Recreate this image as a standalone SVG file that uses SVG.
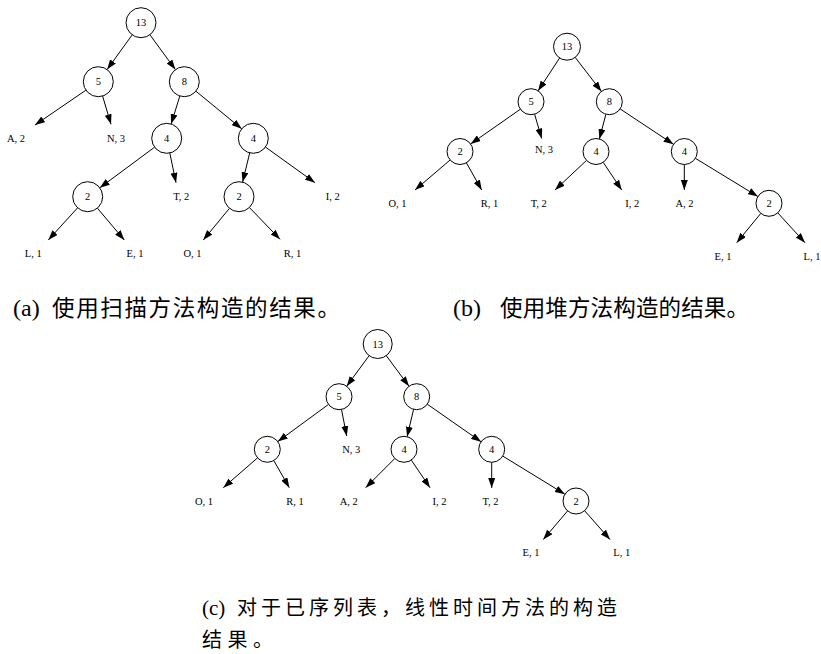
<svg xmlns="http://www.w3.org/2000/svg" width="821" height="654" viewBox="0 0 821 654">
<style>
.nd circle{fill:#fff;stroke:#000;stroke-width:1}
.t{font-family:"Liberation Serif",serif;font-size:10.5px;text-anchor:middle;fill:#000}
.edges line{stroke:#000;stroke-width:1;marker-end:url(#ah)}
.capl{font-family:"Liberation Serif",serif;fill:#000}
.capc{font-family:"Noto Sans CJK SC",sans-serif;fill:#000}
</style>
<defs>
<marker id="ah" markerUnits="userSpaceOnUse" markerWidth="10" markerHeight="7" refX="10" refY="3.5" orient="auto">
<path d="M0,0 L10,3.5 L0,7 z" fill="#000"/>
</marker>
</defs>
<rect width="821" height="654" fill="#fff"/>

<!-- Tree (a) -->
<g id="edges-a" class="edges">
<line x1="132.2" y1="34.85" x2="107.1" y2="69.55"/>
<line x1="149.9" y1="34.8" x2="175.4" y2="69.6"/>
<line x1="85.9" y1="90.2" x2="35" y2="125"/>
<line x1="102.6" y1="96.1" x2="111" y2="124.3"/>
<line x1="179.85" y1="96" x2="171.15" y2="124"/>
<line x1="195.9" y1="91.2" x2="241.7" y2="128.8"/>
<line x1="154.6" y1="147.2" x2="99.8" y2="187.8"/>
<line x1="169.8" y1="153" x2="176" y2="182.7"/>
<line x1="249.7" y1="152.9" x2="242.6" y2="182.1"/>
<line x1="265.5" y1="147.1" x2="315" y2="182.7"/>
<line x1="77.6" y1="207.8" x2="48.3" y2="240"/>
<line x1="97.4" y1="208.2" x2="124.3" y2="240"/>
<line x1="229.5" y1="208.3" x2="203.3" y2="240"/>
<line x1="249.4" y1="207.5" x2="280" y2="239.3"/>
</g>
<g id="a-n13" class="nd"><circle cx="141" cy="22.7" r="15"/><text class="t" x="141" y="26.3">13</text></g>
<g id="a-n5" class="nd"><circle cx="98.3" cy="81.7" r="15"/><text class="t" x="98.3" y="85.3">5</text></g>
<g id="a-n8" class="nd"><circle cx="184.3" cy="81.7" r="15"/><text class="t" x="184.3" y="85.3">8</text></g>
<g id="a-n4a" class="nd"><circle cx="166.7" cy="138.3" r="15"/><text class="t" x="166.7" y="141.9">4</text></g>
<g id="a-n4b" class="nd"><circle cx="253.3" cy="138.3" r="15"/><text class="t" x="253.3" y="141.9">4</text></g>
<g id="a-n2a" class="nd"><circle cx="87.7" cy="196.7" r="15"/><text class="t" x="87.7" y="200.3">2</text></g>
<g id="a-n2b" class="nd"><circle cx="239" cy="196.7" r="15"/><text class="t" x="239" y="200.3">2</text></g>
<g id="a-A"><text class="t" x="16" y="141.9">A, 2</text></g>
<g id="a-N"><text class="t" x="116" y="141.9">N, 3</text></g>
<g id="a-T"><text class="t" x="181.2" y="200.3">T, 2</text></g>
<g id="a-I"><text class="t" x="332.7" y="200.3">I, 2</text></g>
<g id="a-L"><text class="t" x="33.3" y="256.9">L, 1</text></g>
<g id="a-E"><text class="t" x="135" y="256.9">E, 1</text></g>
<g id="a-O"><text class="t" x="192.5" y="256.9">O, 1</text></g>
<g id="a-R"><text class="t" x="292.5" y="256.9">R, 1</text></g>

<!-- Tree (b) -->
<g id="edges-b" class="edges">
<line x1="559.6" y1="58" x2="538.1" y2="90.8"/>
<line x1="575.2" y1="57.4" x2="601.4" y2="91.4"/>
<line x1="520.4" y1="109.2" x2="470.6" y2="144"/>
<line x1="534.6" y1="114.2" x2="541.7" y2="138.5"/>
<line x1="605.9" y1="114.3" x2="599.4" y2="138.9"/>
<line x1="620.1" y1="108.9" x2="673.5" y2="144.3"/>
<line x1="450.1" y1="160" x2="415" y2="190"/>
<line x1="466.4" y1="162.8" x2="481.7" y2="190"/>
<line x1="586.5" y1="160.4" x2="555" y2="190"/>
<line x1="603.2" y1="162.3" x2="621.7" y2="190"/>
<line x1="684.3" y1="164.5" x2="684.3" y2="190"/>
<line x1="695.4" y1="158.3" x2="757.9" y2="196.5"/>
<line x1="760.8" y1="213.4" x2="736.7" y2="242.7"/>
<line x1="777.8" y1="212.9" x2="805" y2="242.7"/>
</g>
<g id="b-n13" class="nd"><circle cx="567" cy="46.7" r="13.5"/><text class="t" x="567" y="50.3">13</text></g>
<g id="b-n5" class="nd"><circle cx="531" cy="101.7" r="13"/><text class="t" x="531" y="105.3">5</text></g>
<g id="b-n8" class="nd"><circle cx="609.3" cy="101.7" r="13"/><text class="t" x="609.3" y="105.3">8</text></g>
<g id="b-n2a" class="nd"><circle cx="460" cy="151.5" r="13"/><text class="t" x="460" y="155.1">2</text></g>
<g id="b-n4a" class="nd"><circle cx="596" cy="151.5" r="13"/><text class="t" x="596" y="155.1">4</text></g>
<g id="b-n4b" class="nd"><circle cx="684.3" cy="151.5" r="13"/><text class="t" x="684.3" y="155.1">4</text></g>
<g id="b-n2b" class="nd"><circle cx="769" cy="203.3" r="13"/><text class="t" x="769" y="206.9">2</text></g>
<g id="b-N"><text class="t" x="544" y="153">N, 3</text></g>
<g id="b-O"><text class="t" x="397.5" y="206.9">O, 1</text></g>
<g id="b-R"><text class="t" x="489.5" y="206.9">R, 1</text></g>
<g id="b-T"><text class="t" x="538.8" y="206.9">T, 2</text></g>
<g id="b-I"><text class="t" x="632.2" y="206.9">I, 2</text></g>
<g id="b-A"><text class="t" x="684.5" y="206.9">A, 2</text></g>
<g id="b-E"><text class="t" x="723" y="260.3">E, 1</text></g>
<g id="b-L"><text class="t" x="812" y="260.3">L, 1</text></g>

<!-- Tree (c) -->
<g id="edges-c" class="edges">
<line x1="369.1" y1="355.7" x2="346.7" y2="386.2"/>
<line x1="386.3" y1="355.7" x2="409" y2="386.3"/>
<line x1="328.5" y1="404.4" x2="277.8" y2="441.6"/>
<line x1="341.5" y1="409.5" x2="346.7" y2="436"/>
<line x1="413.6" y1="409.3" x2="407.1" y2="436.7"/>
<line x1="427.3" y1="404.2" x2="481.1" y2="441.8"/>
<line x1="257.5" y1="457.9" x2="223.3" y2="487.7"/>
<line x1="273.8" y1="460.6" x2="289.3" y2="487.7"/>
<line x1="394.8" y1="458.5" x2="365.7" y2="487.7"/>
<line x1="411.3" y1="460.1" x2="430" y2="487.7"/>
<line x1="491.7" y1="462.3" x2="491.7" y2="488"/>
<line x1="502.8" y1="456.1" x2="564.9" y2="494.2"/>
<line x1="567.6" y1="510.9" x2="543.3" y2="539.5"/>
<line x1="584.6" y1="510.7" x2="610" y2="539.5"/>
</g>
<g id="c-n13" class="nd"><circle cx="377.7" cy="344" r="14.5"/><text class="t" x="377.7" y="347.6">13</text></g>
<g id="c-n5" class="nd"><circle cx="339" cy="396.7" r="13"/><text class="t" x="339" y="400.3">5</text></g>
<g id="c-n8" class="nd"><circle cx="416.7" cy="396.7" r="13"/><text class="t" x="416.7" y="400.3">8</text></g>
<g id="c-n2a" class="nd"><circle cx="267.3" cy="449.3" r="13"/><text class="t" x="267.3" y="452.9">2</text></g>
<g id="c-n4a" class="nd"><circle cx="404" cy="449.3" r="13"/><text class="t" x="404" y="452.9">4</text></g>
<g id="c-n4b" class="nd"><circle cx="491.7" cy="449.3" r="13"/><text class="t" x="491.7" y="452.9">4</text></g>
<g id="c-n2b" class="nd"><circle cx="576" cy="501" r="13"/><text class="t" x="576" y="504.6">2</text></g>
<g id="c-N"><text class="t" x="351.3" y="452.9">N, 3</text></g>
<g id="c-O"><text class="t" x="204" y="504.6">O, 1</text></g>
<g id="c-R"><text class="t" x="295" y="504.6">R, 1</text></g>
<g id="c-A"><text class="t" x="348.8" y="504.6">A, 2</text></g>
<g id="c-I"><text class="t" x="439.5" y="504.6">I, 2</text></g>
<g id="c-T"><text class="t" x="490.5" y="504.6">T, 2</text></g>
<g id="c-E"><text class="t" x="531" y="556.3">E, 1</text></g>
<g id="c-L"><text class="t" x="621.7" y="556.3">L, 1</text></g>

<!-- Captions -->
<g id="cap-a">
<text class="capl" x="13" y="315.5" font-size="24">(a)</text>
<text class="capc" x="52" y="315.5" font-size="22.5" textLength="288" lengthAdjust="spacing">使用扫描方法构造的结果。</text>
</g>
<g id="cap-b">
<text class="capl" x="453" y="315.5" font-size="24">(b)</text>
<text class="capc" x="500" y="315.5" font-size="22.5" textLength="249" lengthAdjust="spacing">使用堆方法构造的结果。</text>
</g>
<g id="cap-c">
<text class="capl" x="202" y="614.5" font-size="21">(c)</text>
<text class="capc" x="237" y="614.5" font-size="20" textLength="380" lengthAdjust="spacing">对于已序列表，线性时间方法的构造</text>
<text class="capc" x="202" y="646.5" font-size="20" textLength="71" lengthAdjust="spacing">结果。</text>
</g>
</svg>
